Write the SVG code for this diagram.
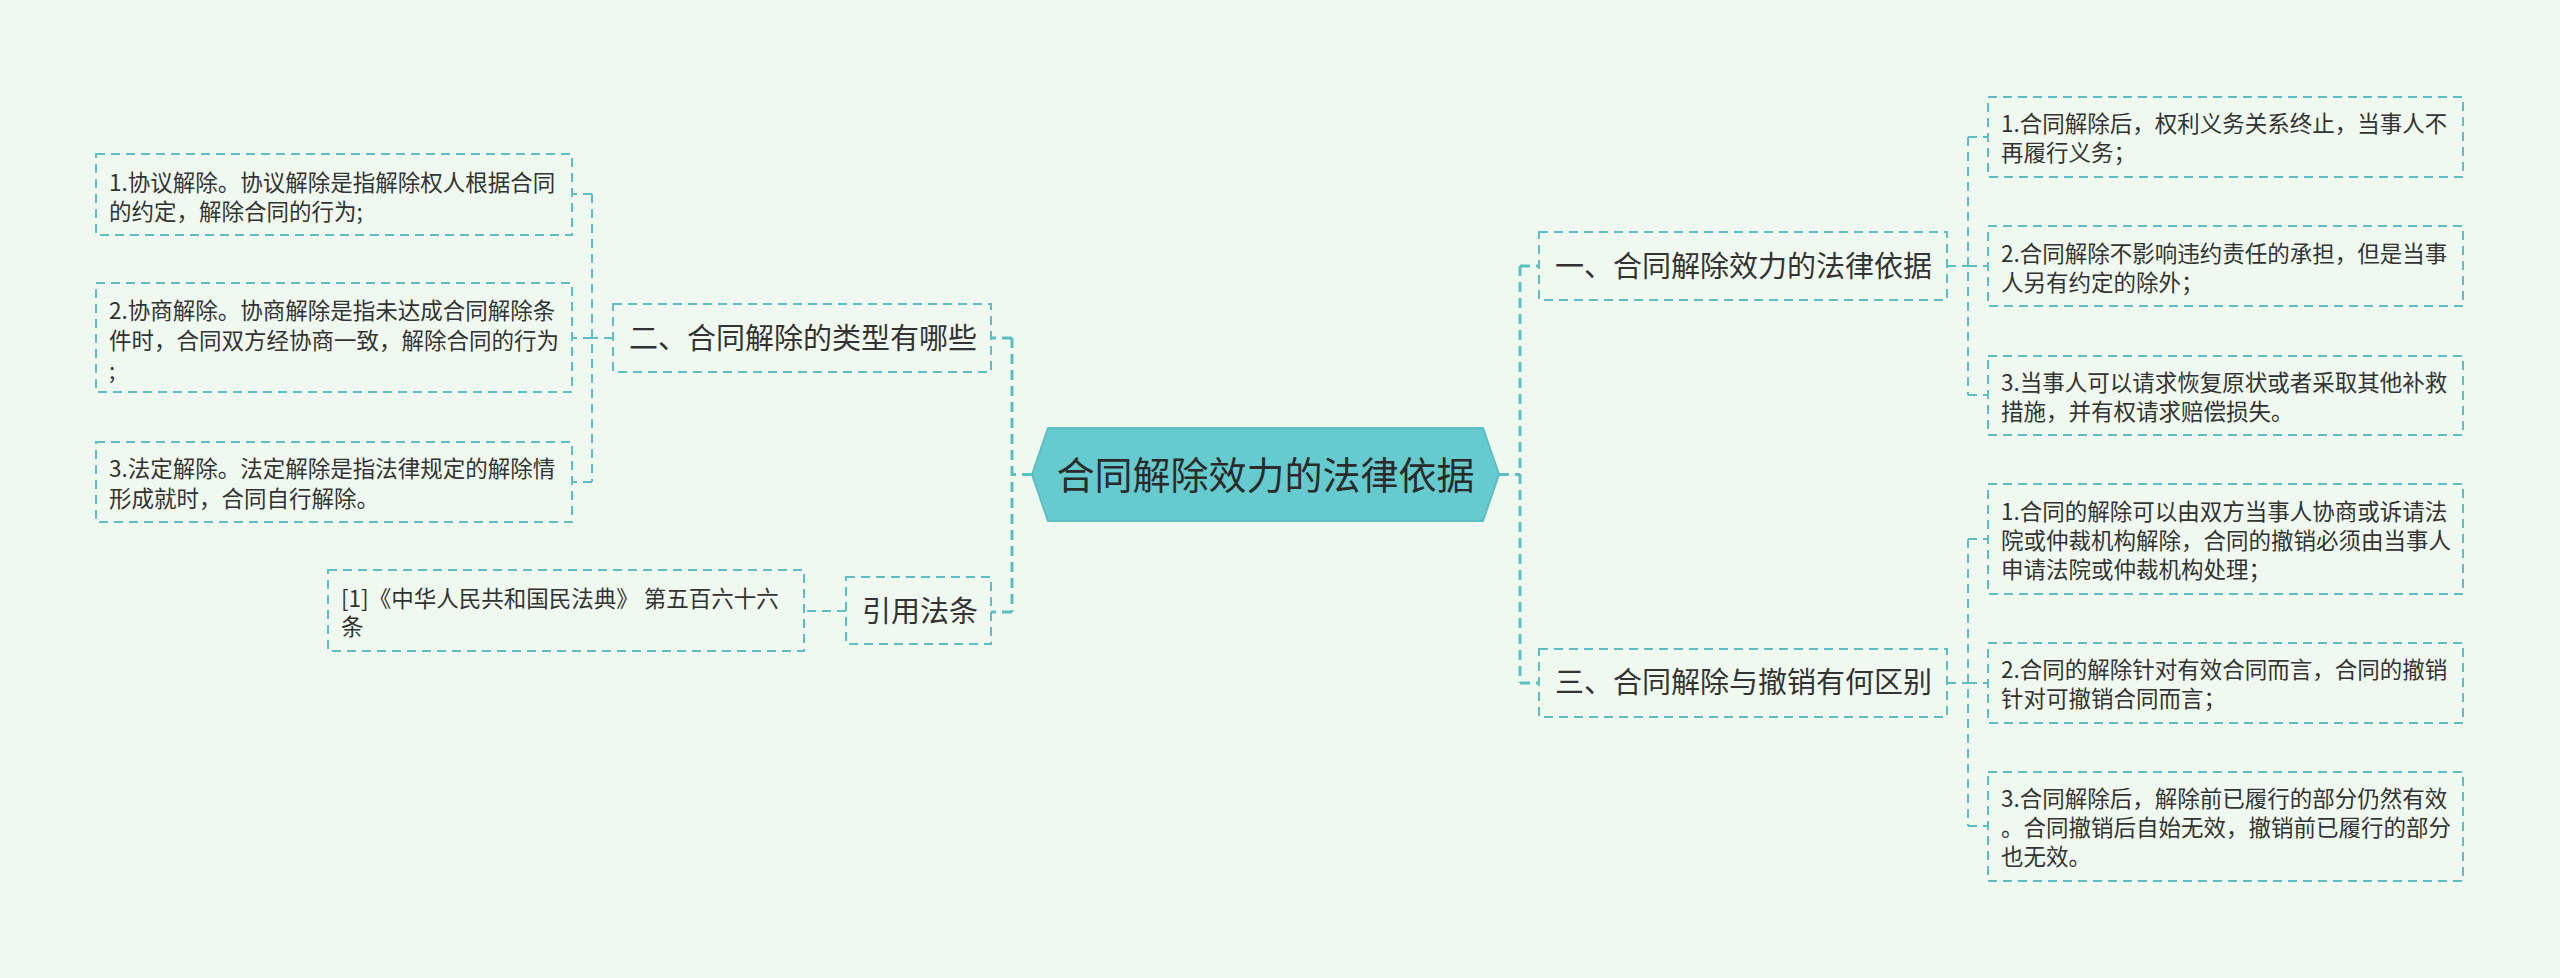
<svg xmlns="http://www.w3.org/2000/svg" width="2560" height="978" viewBox="0 0 2560 978">
<style>
.bg{fill:#F0F9EF}
.box{fill:none;stroke:#5DBFC2;stroke-width:2;stroke-dasharray:9 6}
.c1{fill:none;stroke:#5DBFC2;stroke-width:3;stroke-dasharray:10 6}
.c2{fill:none;stroke:#5DBFC2;stroke-width:2;stroke-dasharray:9 6}
text{font-family:"Noto Sans CJK SC","Noto Sans",sans-serif;fill:#333333}
.t1{font-size:29px}
.t2{font-size:22.5px}
.t0{font-size:38px;fill:#2B2B2B}
</style>
<rect class="bg" x="0" y="0" width="2560" height="978"/>
<g id="connectors">
<path class="c1" d="M1032 474.5H1012M1012 338V612M1012 338H991M1012 612H991"/>
<path class="c2" d="M613 338H592M592 194V482M592 194H572M592 338H572M592 482H572"/>
<path class="c2" d="M846 611H804"/>
<path class="c1" d="M1499 474.5H1520M1520 266V683M1520 266H1539M1520 683H1539"/>
<path class="c2" d="M1947 266H1968M1968 137V395M1968 137H1988M1968 266H1988M1968 395H1988"/>
<path class="c2" d="M1947 683H1968M1968 539V826M1968 539H1988M1968 683H1988M1968 826H1988"/>
</g>
<g id="root">
<polygon points="1032,474.5 1048,428 1483,428 1499,474.5 1483,521 1048,521" fill="#65CBCE" stroke="#5BBFC3" stroke-width="2"/>
<text class="t0" x="1265.5" y="489" text-anchor="middle">合同解除效力的法律依据</text>
</g>
<g id="n-types">
<rect class="box" x="613" y="304" width="378" height="68"/>
<text class="t1" x="629" y="349">二、合同解除的类型有哪些</text>
</g>
<g id="n-type1">
<rect class="box" x="96" y="154" width="476" height="81"/>
<text class="t2" x="109" y="190.5">1.协议解除。协议解除是指解除权人根据合同<tspan x="109" dy="29">的约定，解除合同的行为;</tspan></text>
</g>
<g id="n-type2">
<rect class="box" x="96" y="283" width="476" height="109"/>
<text class="t2" x="109" y="318.5">2.协商解除。协商解除是指未达成合同解除条<tspan x="109" dy="30">件时，合同双方经协商一致，解除合同的行为</tspan><tspan x="109" dy="30">;</tspan></text>
</g>
<g id="n-type3">
<rect class="box" x="96" y="442" width="476" height="80"/>
<text class="t2" x="109" y="476.5">3.法定解除。法定解除是指法律规定的解除情<tspan x="109" dy="30">形成就时，合同自行解除。</tspan></text>
</g>
<g id="n-cite">
<rect class="box" x="846" y="577" width="145" height="67"/>
<text class="t1" x="862" y="622">引用法条</text>
</g>
<g id="n-cite1">
<rect class="box" x="328" y="570" width="476" height="81"/>
<text class="t2" x="341" y="606.5">[1]《中华人民共和国民法典》 第五百六十六<tspan x="341" dy="28">条</tspan></text>
</g>
<g id="n-basis">
<rect class="box" x="1539" y="232" width="408" height="68"/>
<text class="t1" x="1555" y="277">一、合同解除效力的法律依据</text>
</g>
<g id="n-basis1">
<rect class="box" x="1988" y="97" width="475" height="80"/>
<text class="t2" x="2001" y="131.5">1.合同解除后，权利义务关系终止，当事人不<tspan x="2001" dy="29">再履行义务；</tspan></text>
</g>
<g id="n-basis2">
<rect class="box" x="1988" y="226" width="475" height="80"/>
<text class="t2" x="2001" y="261.5">2.合同解除不影响违约责任的承担，但是当事<tspan x="2001" dy="29">人另有约定的除外；</tspan></text>
</g>
<g id="n-basis3">
<rect class="box" x="1988" y="356" width="475" height="79"/>
<text class="t2" x="2001" y="390.5">3.当事人可以请求恢复原状或者采取其他补救<tspan x="2001" dy="29">措施，并有权请求赔偿损失。</tspan></text>
</g>
<g id="n-diff">
<rect class="box" x="1539" y="649" width="408" height="68"/>
<text class="t1" x="1555" y="693">三、合同解除与撤销有何区别</text>
</g>
<g id="n-diff1">
<rect class="box" x="1988" y="484" width="475" height="110"/>
<text class="t2" x="2001" y="519.5">1.合同的解除可以由双方当事人协商或诉请法<tspan x="2001" dy="29">院或仲裁机构解除，合同的撤销必须由当事人</tspan><tspan x="2001" dy="29">申请法院或仲裁机构处理；</tspan></text>
</g>
<g id="n-diff2">
<rect class="box" x="1988" y="643" width="475" height="80"/>
<text class="t2" x="2001" y="677.5">2.合同的解除针对有效合同而言，合同的撤销<tspan x="2001" dy="29">针对可撤销合同而言；</tspan></text>
</g>
<g id="n-diff3">
<rect class="box" x="1988" y="772" width="475" height="109"/>
<text class="t2" x="2001" y="806.5">3.合同解除后，解除前已履行的部分仍然有效<tspan x="2001" dy="29">。合同撤销后自始无效，撤销前已履行的部分</tspan><tspan x="2001" dy="29">也无效。</tspan></text>
</g>
</svg>
